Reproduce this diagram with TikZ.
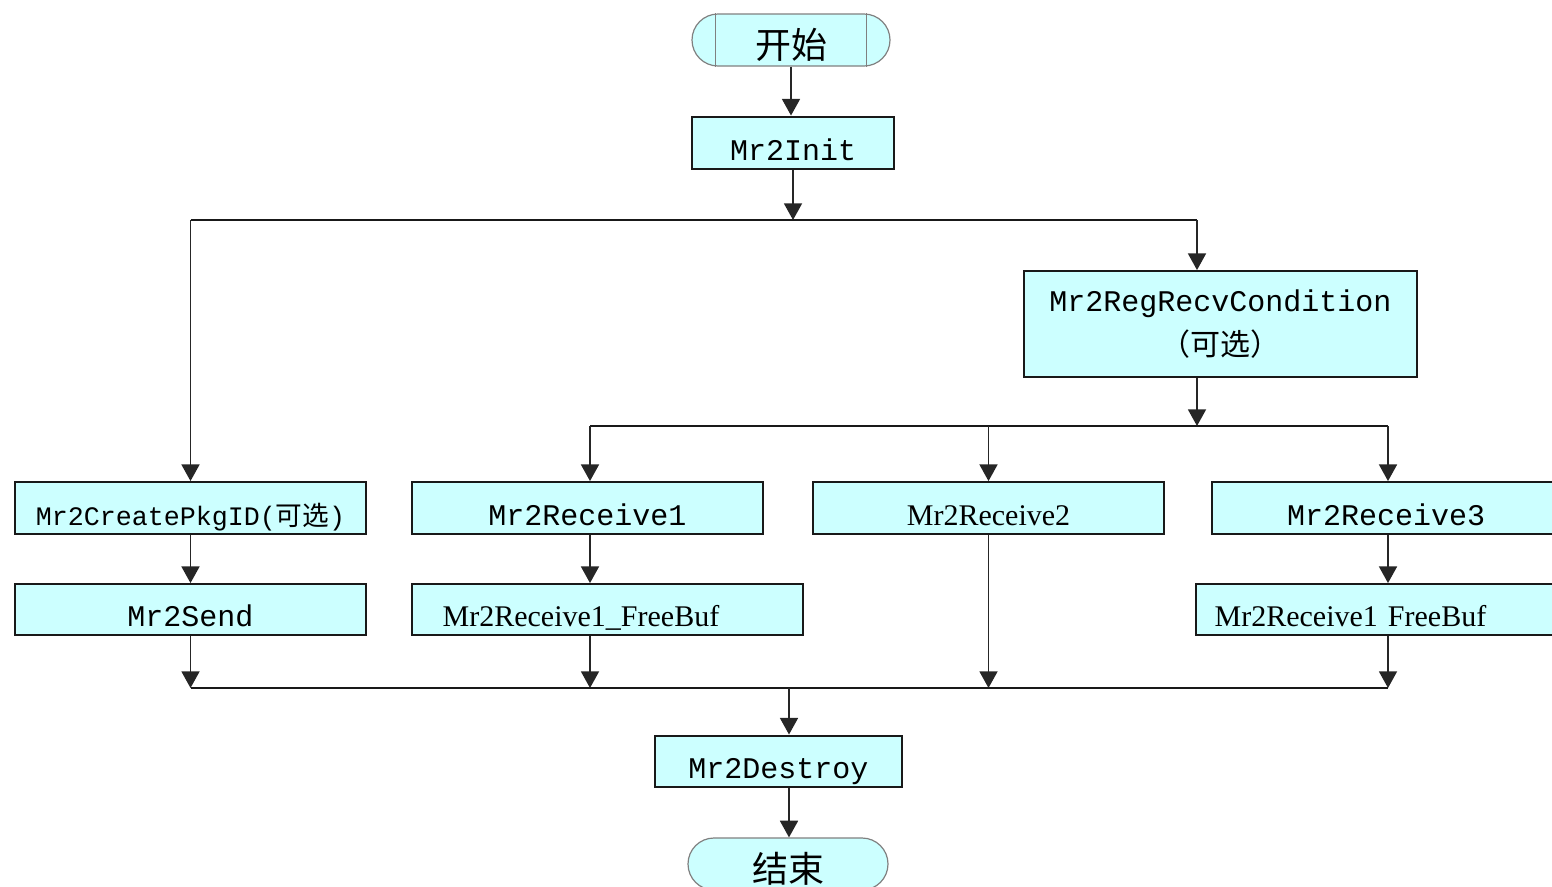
\documentclass[tikz,border=0pt]{standalone}
\usepackage{fontspec}
\setmainfont{Liberation Mono}
\newfontfamily\cjk{Noto Sans CJK SC}
\newfontfamily\narrowserif{Liberation Serif}
\usetikzlibrary{arrows.meta}
\definecolor{boxcyan}{RGB}{204,255,255}
\tikzset{
	cell/.style={draw=black!90, fill=boxcyan, line width=1.4pt, inner sep=0pt, font=\fontsize{22.5}{33}\selectfont},
	box/.style={cell, minimum height=39pt, text height=26pt, text depth=0pt},
	term/.style={draw=gray, fill=boxcyan, line width=0.9pt, rounded corners=19.5pt, minimum height=39pt, inner sep=0pt, text height=28pt, text depth=0pt, font=\cjk\fontsize{27}{30}\selectfont},
	arr/.style={-{Triangle[width=13.5pt,length=12.5pt]}, line width=1.3pt, draw=black!85},
	bus/.style={line width=1.3pt, draw=black!90},
}

\begin{document}
\begin{tikzpicture}[x=0.75pt,y=0.75pt,yscale=-1,xscale=1]
	\useasboundingbox (0,0) rectangle (1552,886);
	\clip (0,0) rectangle (1552,886);
	
	% Terminals
	\node [term, minimum width=148.5pt] (start) at (791,40) {开始};
	\draw [gray, line width=0.9pt] ([xshift=18pt]start.north west) -- ([xshift=18pt]start.south west);
	\draw [gray, line width=0.9pt] ([xshift=-18pt]start.north east) -- ([xshift=-18pt]start.south east);
	\node [term, minimum width=150pt] (finish) at (788,864) {结束};
	
	% Process boxes
	\node [box, line width=2.2pt, minimum width=151.5pt] (init) at (793,143) {Mr2Init};
	\node [cell, minimum width=294.75pt, minimum height=79.5pt, align=center] (reg) at (1220.5,324) {Mr2RegRecvCondition\\{\cjk （可选）}};
	\node [box, minimum width=263.25pt, font=\fontsize{20}{24}\selectfont] (pkg) at (190.5,508) {Mr2CreatePkgID({\cjk 可选})};
	\node [box, minimum width=263.25pt] (rcv1) at (587.5,508) {Mr2Receive1};
	\node [box, minimum width=263.25pt, font=\narrowserif\fontsize{22.5}{27}\selectfont] (rcv2) at (988.5,508) {Mr2Receive2};
	\node [box, minimum width=261pt] (rcv3) at (1386,508) {Mr2Receive3};
	\node [box, minimum width=263.25pt, minimum height=38.25pt] (send) at (190.5,609.5) {Mr2Send};
	\node [box, minimum height=38.25pt, inner xsep=23pt, text width=247.25pt, align=left, font=\narrowserif\fontsize{22.5}{27}\selectfont] (free1) at (607.5,609.5) {Mr2Receive1\_FreeBuf};
	\node [box, minimum height=38.25pt, inner xsep=14pt, text width=245pt, align=left, font=\narrowserif\fontsize{22.5}{27}\selectfont] (free2) at (1378,609.5) {Mr2Receive1 FreeBuf};
	\node [box, line width=2.2pt, minimum width=185.25pt, minimum height=38.25pt] (destroy) at (778.5,761.5) {Mr2Destroy};
	
	% Bus points
	\coordinate (ja) at (793,220);
	\coordinate (jl) at (190.5,220);
	\coordinate (jr) at (1197,220);
	\coordinate (jb) at (1197,426);
	\coordinate (bl) at (590,426);
	\coordinate (bm) at (988.5,426);
	\coordinate (br) at (1388,426);
	\coordinate (cl) at (190.5,688);
	\coordinate (cm) at (789,688);
	\coordinate (cr) at (1388,688);
	
	% Connectors
	\draw [arr] (start) -- (start |- init.north);
	\draw [arr] (init) -- (ja);
	\draw [bus] (jl) -- (jr);
	\draw [arr] (jl) -- (pkg.north);
	\draw [arr] (jr) -- (jr |- reg.north);
	\draw [arr] (reg.south -| jb) -- (jb);
	\draw [bus] (bl) -- (br);
	\draw [arr] (bl) -- (bl |- rcv1.north);
	\draw [arr] (bm) -- (rcv2.north);
	\draw [arr] (br) -- (br |- rcv3.north);
	\draw [arr] (pkg) -- (send);
	\draw [arr] (rcv1.south -| bl) -- (bl |- free1.north);
	\draw [arr] (rcv3.south -| br) -- (br |- free2.north);
	\draw [arr] (send) -- (cl);
	\draw [arr] (free1.south -| bl) -- (bl |- cl);
	\draw [arr] (rcv2) -- (rcv2.south |- cl);
	\draw [arr] (free2.south -| br) -- (cr);
	\draw [bus] (cl) -- (cr);
	\draw [arr] (cm) -- (cm |- destroy.north);
	\draw [arr] (destroy.south -| cm) -- (cm |- finish.north);
\end{tikzpicture}
\end{document}
